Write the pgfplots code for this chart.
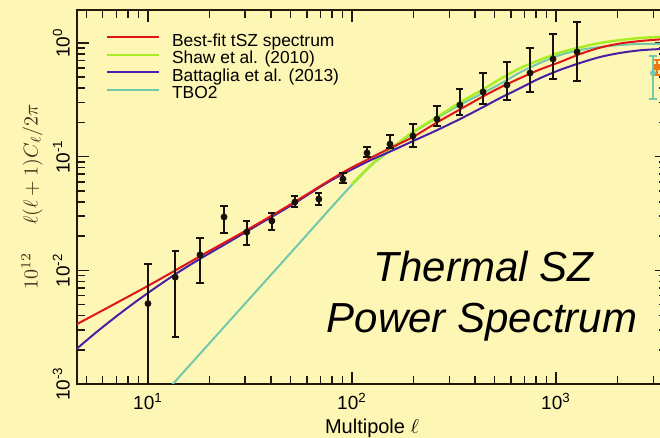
\documentclass[border=0pt]{standalone}
\usepackage{fontspec}
\setmainfont{Liberation Sans}
\usepackage{pgfplots}
\pgfplotsset{compat=1.18}
\definecolor{bgc}{RGB}{254,246,180}
\definecolor{axc}{RGB}{35,25,10}
\definecolor{cred}{RGB}{222,22,22}
\definecolor{cgreen}{RGB}{165,238,35}
\definecolor{cblue}{RGB}{72,32,165}
\definecolor{cteal}{RGB}{115,200,172}
\definecolor{corange}{RGB}{240,120,20}
\definecolor{labc}{RGB}{70,48,22}
\definecolor{datac}{RGB}{25,18,8}

\pgfplotstableread{
l      v       ep      em
10     0.0051  0.0063  0.0046
13.6   0.0087  0.0061  0.0061
18.0   0.0137  0.0056  0.0060
23.6   0.0295  0.0073  0.0082
30.5   0.0217  0.0055  0.0050
40.5   0.0272  0.0047  0.0046
52.5   0.0399  0.0052  0.0038
68.8   0.0424  0.0055  0.0048
90.3   0.0636  0.0082  0.0049
118.5  0.1077  0.0139  0.0084
153.6  0.129   0.026   0.010
199    0.152   0.042   0.030
261    0.214   0.065   0.028
338    0.285   0.109   0.052
439    0.371   0.173   0.080
575    0.427   0.254   0.112
746    0.544   0.360   0.173
967    0.723   0.477   0.241
1268   0.834   0.696   0.371
}\datatable

\begin{document}
\begin{tikzpicture}
\useasboundingbox (-38.5pt,-27pt) rectangle (291.5pt,192pt);
\clip (-38.5pt,-27pt) rectangle (291.5pt,192pt);
\fill[bgc] (-38.5pt,-27pt) rectangle (291.5pt,192pt);
\begin{axis}[
  at={(0pt,0pt)}, anchor=south west,
  scale only axis, width=295pt, height=187pt,
  xmode=log, ymode=log,
  xmin=4.49, xmax=3500, ymin=0.001, ymax=1.95,
  axis line style={draw=axc, line width=1pt},
  tick style={draw=axc, line width=0.8pt},
  major tick length=6pt, minor tick length=4pt,
  tick align=inside,
  xtick={10,100,1000},
  xticklabels={10\textsuperscript{1},10\textsuperscript{2},10\textsuperscript{3}},
  minor xtick={5,6,7,8,9,20,30,40,50,60,70,80,90,200,300,400,500,600,700,800,900,2000,3000},
  ytick={0.001,0.01,0.1,1},
  yticklabels={10\textsuperscript{-3},10\textsuperscript{-2},10\textsuperscript{-1},10\textsuperscript{0}},
  minor ytick={0.002,0.003,0.004,0.005,0.006,0.007,0.008,0.009,0.02,0.03,0.04,0.05,0.06,0.07,0.08,0.09,0.2,0.3,0.4,0.5,0.6,0.7,0.8,0.9},
  ticklabel style={font=\fontsize{9.5}{11}\selectfont, text=black},
  yticklabel style={rotate=90, anchor=south},
  xticklabel style={yshift=-1pt},
  xlabel={Multipole $\ell$},
  ylabel={$10^{12}\hspace{1.4em}\ell(\ell+1)C_\ell/2\pi$},
  every axis x label/.style={at={(axis description cs:0.5,-0.1176)}, anchor=center, font=\fontsize{10}{12}\selectfont},
  every axis y label/.style={at={(axis description cs:-0.0763,0.5)}, rotate=90, anchor=center, text=labc, font=\fontsize{10}{12}\selectfont},
  legend style={draw=none, fill=none, at={(axis description cs:0.0492,0.936)}, anchor=north west,
    inner sep=0pt, outer sep=0pt, row sep=0pt, column sep=6pt,
    font=\fontsize{8.7}{8.75}\selectfont,
    nodes={inner sep=0pt, text height=6.2pt, text depth=2.55pt}},
  legend cell align=left,
  legend image code/.code={\draw[#1] (-1pt,2.8pt) -- (25pt,2.8pt);},
]
\addlegendimage{cred, line width=1pt}
\addlegendentry{Best-fit tSZ spectrum}
\addlegendimage{cgreen, line width=1pt}
\addlegendentry{Shaw et al. (2010)}
\addlegendimage{cblue, line width=1pt}
\addlegendentry{Battaglia et al. (2013)}
\addlegendimage{cteal, line width=1pt}
\addlegendentry{TBO2}

\addplot[cteal, line width=1pt, smooth, forget plot] coordinates {
(12,0.00082) (20,0.00228) (30,0.00512) (50,0.0142) (70,0.0279) (87,0.0431) (100,0.0565) (115,0.073) (127,0.087) (154,0.113) (199,0.162) (261,0.219) (338,0.285) (438,0.363) (531,0.435) (666,0.55) (835,0.667) (1047,0.784) (1312,0.868) (1644,0.922) (2060,0.96) (2581,0.98) (3236,0.98) (3600,0.98)};

\addplot[cgreen, line width=1.2pt, smooth, forget plot] coordinates {
(100,0.0575) (127,0.088) (154,0.116) (199,0.165) (261,0.223) (338,0.299) (438,0.39) (531,0.48) (666,0.60) (835,0.71) (1047,0.825) (1312,0.915) (1644,1.0) (2060,1.06) (2581,1.107) (3236,1.13) (3600,1.135)};

\addplot[cblue, line width=1pt, smooth, forget plot] coordinates {
(4.37,0.00197) (5.62,0.00288) (7.08,0.0040) (8.91,0.00545) (11.2,0.00729) (14.1,0.00962) (17.8,0.01247) (25,0.0178) (35,0.0254) (50,0.037) (70,0.0543) (87,0.068) (120,0.091) (154,0.111) (199,0.137) (261,0.171) (338,0.214) (438,0.272) (531,0.327) (666,0.40) (835,0.49) (1047,0.58) (1312,0.667) (1644,0.753) (2060,0.817) (2581,0.862) (3236,0.884) (3600,0.888)};

\addplot[cred, line width=1pt, smooth, forget plot] coordinates {
(4.4,0.0033) (10,0.0073) (20,0.0148) (30,0.0222) (50,0.038) (87,0.070) (120,0.095) (154,0.119) (199,0.149) (261,0.200) (338,0.260) (438,0.338) (531,0.405) (666,0.49) (835,0.585) (1047,0.68) (1312,0.80) (1644,0.91) (2060,0.99) (2581,1.04) (3236,1.075) (3600,1.085)};

\addplot[only marks, mark=*, mark size=1.5pt, color=datac, forget plot,
  error bars/.cd, y dir=both, y explicit,
  error bar style={line width=0.75pt, datac},
  error mark options={rotate=90, line width=0.75pt, mark size=1.8pt, datac}]
  table[x=l, y=v, y error plus=ep, y error minus=em] {\datatable};

\addplot[only marks, mark=*, mark size=1.3pt, color=cteal, forget plot,
  error bars/.cd, y dir=both, y explicit,
  error bar style={line width=0.9pt, cteal},
  error mark options={rotate=90, line width=0.9pt, mark size=1.8pt, cteal}]
  coordinates {(2990,0.544) +- (0,0.223)};

\addplot[only marks, mark=square*, mark size=1.2pt, color=corange, forget plot,
  error bars/.cd, y dir=both, y explicit,
  error bar style={line width=0.9pt, corange},
  error mark options={rotate=90, line width=0.9pt, mark size=1.8pt, corange}]
  coordinates {(3130,0.615) +- (0,0.095)};
\end{axis}
\node[anchor=base, font=\fontsize{21}{25}\selectfont\itshape] at (203.25pt,51pt) {Thermal SZ};
\node[anchor=base, font=\fontsize{21}{25}\selectfont\itshape] at (202.5pt,25.5pt) {Power Spectrum};
\end{tikzpicture}
\end{document}
